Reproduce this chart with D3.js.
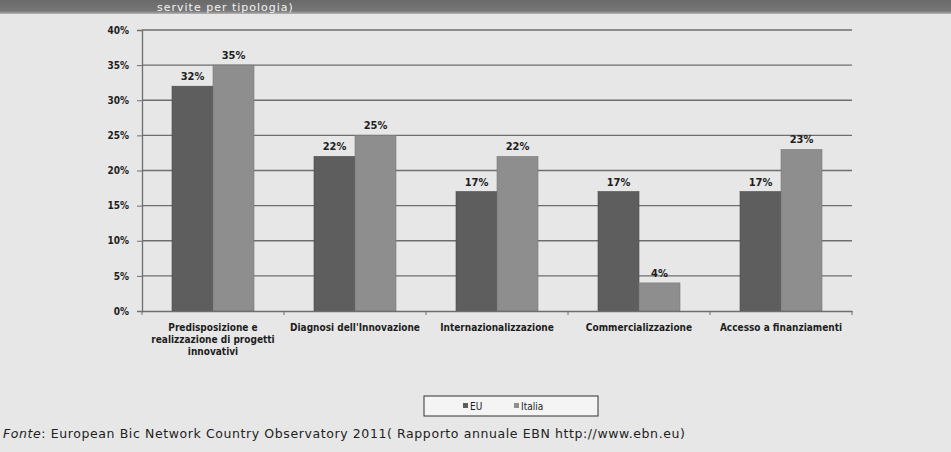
<!DOCTYPE html>
<html><head><meta charset="utf-8">
<script src="https://cdn.jsdelivr.net/npm/d3@7"></script>
<style>html,body{margin:0;padding:0;background:#e6e6e6;}svg{display:block;}</style>
</head><body>
<script>
const categories = [
  ["Predisposizione e", "realizzazione di progetti", "innovativi"],
  ["Diagnosi dell'Innovazione"],
  ["Internazionalizzazione"],
  ["Commercializzazione"],
  ["Accesso a finanziamenti"]
];
const seriesNames = ["EU", "Italia"];
const euValues = [32, 22, 17, 17, 17];
const italiaValues = [35, 25, 22, 4, 23];
const yTicks = [0, 5, 10, 15, 20, 25, 30, 35, 40];
const headerText = "servite per tipologia)";
const sourceText = ": European Bic Network Country Observatory 2011( Rapporto  annuale EBN http://www.ebn.eu)";

const W = 951, H = 452;
const svg = d3.select("body").append("svg").attr("width", W).attr("height", H);
svg.append("rect").attr("width", W).attr("height", H).attr("fill", "#e7e7e7");

// header band
const grad = svg.append("defs").append("linearGradient").attr("id","hg").attr("x1",0).attr("y1",0).attr("x2",0).attr("y2",1);
grad.append("stop").attr("offset","0%").attr("stop-color","#6a6a6a");
grad.append("stop").attr("offset","78%").attr("stop-color","#767676");
grad.append("stop").attr("offset","100%").attr("stop-color","#b5b5b5");
svg.append("rect").attr("x",0).attr("y",0).attr("width",W).attr("height",14).attr("fill","url(#hg)");
svg.append("text").attr("x",157).attr("y",11).attr("fill","#f2f2f2")
  .attr("font-family","'DejaVu Sans'").attr("font-size",11).attr("letter-spacing",1).text(headerText);

const x0 = 142, x1 = 852, yTop = 30, yBot = 311;
const x = d3.scaleBand().domain(d3.range(categories.length)).range([x0, x1]).paddingInner(0).paddingOuter(0);
const xs = d3.scaleBand().domain(seriesNames).range([0, 82]);
const y = d3.scaleLinear().domain([0, 40]).range([yBot, yTop]);

const g = svg.append("g");
// gridlines
g.selectAll("line.grid").data(yTicks.filter(d => d > 0)).enter().append("line")
  .attr("x1", x0).attr("x2", x1).attr("y1", d => y(d)).attr("y2", d => y(d))
  .attr("stroke", "#6e6e6e").attr("stroke-width", 1.3);

// bars
const colors = {EU: "#5e5e5e", Italia: "#8e8e8e"};
const data = [];
categories.forEach((c, i) => {
  data.push({i, s: "EU", v: euValues[i]});
  data.push({i, s: "Italia", v: italiaValues[i]});
});
const off = (x.bandwidth() - 82) / 2;
g.selectAll("rect.bar").data(data).enter().append("rect")
  .attr("x", d => x(d.i) + off + xs(d.s))
  .attr("y", d => y(d.v))
  .attr("width", xs.bandwidth())
  .attr("height", d => yBot - y(d.v))
  .attr("fill", d => colors[d.s])
  .attr("stroke", d => d.s === "EU" ? "#4a4a4a" : "#7a7a7a").attr("stroke-width", 0.6);

g.selectAll("text.val").data(data).enter().append("text")
  .attr("x", d => x(d.i) + off + xs(d.s) + xs.bandwidth() / 2)
  .attr("y", d => y(d.v) - 6)
  .attr("text-anchor", "middle")
  .attr("font-family", "'DejaVu Sans Condensed','DejaVu Sans'").attr("font-weight", "bold")
  .attr("font-size", 11).attr("fill", "#1e1e1e")
  .text(d => d.v + "%");

// y axis
const yAxis = d3.axisLeft(y).tickValues(yTicks).tickFormat(d => d + "%").tickSize(5).tickPadding(8);
const ya = svg.append("g").attr("transform", `translate(${x0},0)`).call(yAxis);
ya.select(".domain").attr("stroke", "#6e6e6e").attr("stroke-width", 1.3);
ya.selectAll(".tick line").attr("stroke", "#6e6e6e");
ya.selectAll("text").attr("font-family", "'DejaVu Sans Condensed','DejaVu Sans'").attr("font-weight","bold")
  .attr("font-size", 10).attr("fill", "#1e1e1e");

// x axis
const xAxis = d3.axisBottom(x).tickSize(0).tickFormat("");
const xa = svg.append("g").attr("transform", `translate(0,${yBot})`).call(xAxis);
xa.select(".domain").attr("stroke", "#6e6e6e").attr("stroke-width", 1.3);
xa.selectAll("line.sep").data(d3.range(categories.length + 1)).enter().append("line").attr("class","sep")
  .attr("x1", i => x0 + i * x.bandwidth()).attr("x2", i => x0 + i * x.bandwidth())
  .attr("y1", 0).attr("y2", 4).attr("stroke", "#6e6e6e");

categories.forEach((lines, i) => {
  const t = svg.append("text").attr("x", x(i) + x.bandwidth() / 2).attr("y", 331)
    .attr("text-anchor", "middle")
    .attr("font-family", "'DejaVu Sans Condensed','DejaVu Sans'").attr("font-weight","bold")
    .attr("font-size", 10).attr("fill", "#1e1e1e");
  lines.forEach((l, k) => t.append("tspan").attr("x", x(i) + x.bandwidth() / 2).attr("dy", k === 0 ? 0 : 12).text(l));
});

// legend
const lg = svg.append("g");
lg.append("rect").attr("x", 424).attr("y", 396).attr("width", 174).attr("height", 20)
  .attr("fill", "#f4f4f4").attr("stroke", "#333").attr("stroke-width", 1);
const legendX = [463, 514];
seriesNames.forEach((s, k) => {
  lg.append("rect").attr("x", legendX[k]).attr("y", 403).attr("width", 5).attr("height", 5).attr("fill", colors[s]);
  lg.append("text").attr("x", legendX[k] + 7).attr("y", 410)
    .attr("font-family", "'DejaVu Sans Condensed','DejaVu Sans'").attr("font-size", 10).attr("fill", "#222").text(s);
});

// source
const st = svg.append("text").attr("x", 3).attr("y", 438)
  .attr("font-family", "'DejaVu Sans'").attr("font-size", 12.5).attr("letter-spacing", 0.6).attr("fill", "#222");
st.append("tspan").attr("font-style", "italic").text("Fonte");
st.append("tspan").text(sourceText);
</script>
</body></html>
